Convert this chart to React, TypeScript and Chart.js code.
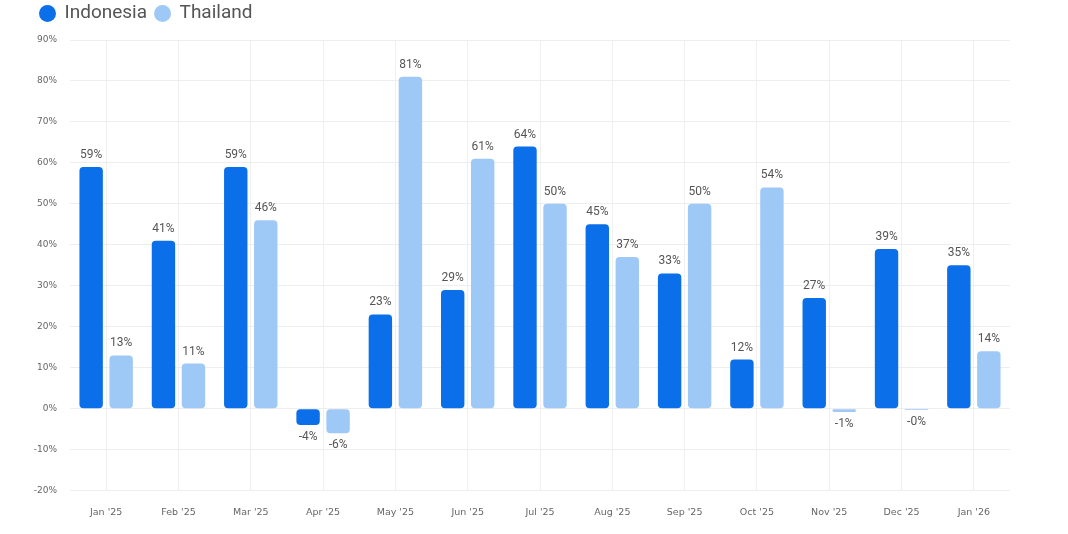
import React, { useEffect, useRef } from "react";
import { Chart, registerables } from "chart.js";

Chart.register(...registerables);

const months = [
  "Jan '25", "Feb '25", "Mar '25", "Apr '25", "May '25", "Jun '25", "Jul '25",
  "Aug '25", "Sep '25", "Oct '25", "Nov '25", "Dec '25", "Jan '26",
];

const indonesia = [59, 41, 59, -4, 23, 29, 64, 45, 33, 12, 27, 39, 35];
const thailand = [13, 11, 46, -6, 81, 61, 50, 37, 50, 54, -0.8, -0.3, 14];

const yMin = -20;
const yMax = 90;
const yStep = 10;

const FONT = "Roboto, 'Noto Sans', Arial, sans-serif";
const TICK_FONT = "'DejaVu Sans', Arial, sans-serif";

// Percent labels above positive bars and below negative ones
const barValueLabels = {
  id: "barValueLabels",
  afterDatasetsDraw(chart: any) {
    const { ctx } = chart;
    ctx.save();
    ctx.font = `12px ${FONT}`;
    ctx.fillStyle = "#555555";
    ctx.textAlign = "center";
    ctx.textBaseline = "middle";
    chart.data.datasets.forEach((ds: any, di: number) => {
      const meta = chart.getDatasetMeta(di);
      meta.data.forEach((bar: any, i: number) => {
        const v = ds.data[i] as number;
        const text = `${v.toFixed(0)}%`;
        const y = v >= 0 ? bar.y - 12 : bar.y + 12;
        ctx.fillText(text, bar.x, y);
      });
    });
    ctx.restore();
  },
};

// Extra room between the legend row and the plot
const legendSpacing = {
  id: "legendSpacing",
  beforeInit(chart: any) {
    const fit = chart.legend.fit;
    chart.legend.fit = function () {
      fit.call(this);
      this.height = 44;
    };
  },
};

export default function App() {
  const canvasRef = useRef<HTMLCanvasElement | null>(null);

  useEffect(() => {
    if (!canvasRef.current) return;
    const chart = new Chart(canvasRef.current, {
      type: "bar",
      data: {
        labels: months,
        datasets: [
          {
            label: "Indonesia",
            data: indonesia,
            backgroundColor: "#0a6fe8",
            borderRadius: 4,
            borderSkipped: false,
            categoryPercentage: 0.83,
            barPercentage: 0.78,
          },
          {
            label: "Thailand",
            data: thailand,
            backgroundColor: "#9ec8f6",
            borderRadius: 4,
            borderSkipped: false,
            categoryPercentage: 0.83,
            barPercentage: 0.78,
          },
        ],
      },
      options: {
        responsive: true,
        maintainAspectRatio: false,
        animation: false,
        layout: { padding: { left: 32, right: 58, top: -4, bottom: 0 } },
        plugins: {
          legend: {
            position: "top",
            align: "start",
            labels: {
              usePointStyle: true,
              pointStyle: "circle",
              boxWidth: 15,
              boxHeight: 12,
              padding: 8,
              color: "#555555",
              font: { family: FONT, size: 19 },
            },
          },
          tooltip: { enabled: false },
        },
        scales: {
          x: {
            grid: { offset: false, drawTicks: false, color: "#f0f0f0" },
            border: { display: false },
            ticks: {
              padding: 16,
              color: "#666666",
              font: { family: TICK_FONT, size: 9.5 },
            },
          },
          y: {
            min: yMin,
            max: yMax,
            grid: { drawTicks: false, color: "#eeeeee" },
            border: { display: false },
            afterFit(scale: any) {
              scale.width = 38;
            },
            ticks: {
              stepSize: yStep,
              padding: 13,
              color: "#666666",
              font: { family: TICK_FONT, size: 9 },
              callback: (v: any) => `${v}%`,
            },
          },
        },
      },
      plugins: [barValueLabels, legendSpacing],
    });
    return () => chart.destroy();
  }, []);

  return (
    <div
      style={{
        position: "fixed",
        left: 0,
        top: 0,
        width: 1068,
        height: 534,
        background: "#ffffff",
      }}
    >
      <canvas ref={canvasRef} />
    </div>
  );
}
